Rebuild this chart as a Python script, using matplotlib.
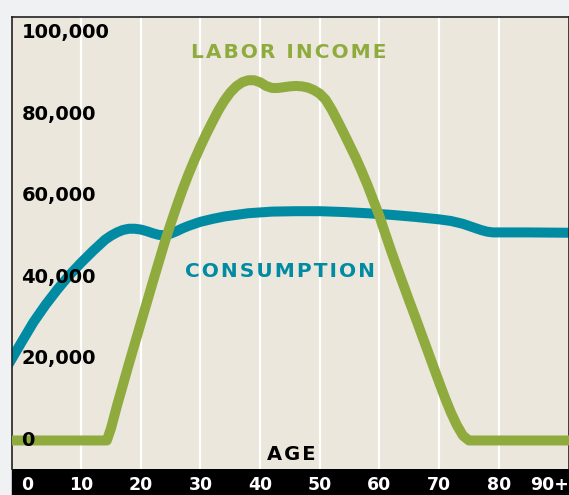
import numpy as np
import matplotlib.pyplot as plt
from matplotlib.transforms import ScaledTranslation

# values (age, dollars)
labor_age = [-2, 14.3, 15, 16, 18, 20, 22, 24, 25, 26, 27, 28, 29, 30, 31, 32, 33, 34, 35, 36, 37,
             38, 39, 40, 41, 42, 43, 44, 45, 46, 47, 48, 49, 50, 51, 52, 53, 54, 55, 56, 57, 58,
             59, 60, 61, 62, 63, 64, 65, 66, 67, 68, 69, 70, 71, 72, 73, 74, 75, 93]
labor_income = [0, 0, 3000, 8500, 18800, 28800, 38800, 48600, 53100, 57400, 61500, 65300, 68800,
                72100, 75200, 78100, 80900, 83300, 85300, 86800, 87800, 88300, 88300, 87800,
                86900, 86400, 86400, 86600, 86800, 86900, 86800, 86500, 85900, 85000, 83500,
                81100, 78300, 75400, 72400, 69400, 66100, 62600, 58800, 55000, 50600, 46300,
                42200, 38200, 34200, 30300, 26300, 22300, 18300, 14300, 10400, 6800, 3700, 1200,
                0, 0]

cons_age = [-2, 0, 2, 4, 6, 8, 10, 12, 14, 15, 16, 17, 18, 19, 20, 21, 22, 23, 24, 25, 26, 27, 28,
            29, 30, 32, 34, 38, 42, 46, 50, 54, 58, 62, 66, 70, 72, 74, 75, 76, 77, 78, 79, 80, 85, 93]
consumption = [19100, 24100, 29000, 33200, 37000, 40500, 43600, 46500, 49200, 50200, 51000, 51600,
               51900, 51900, 51700, 51300, 50800, 50400, 50300, 50700, 51300, 52000, 52600, 53100,
               53600, 54300, 54900, 55700, 56100, 56200, 56200, 56000, 55700, 55300, 54800, 54200,
               53800, 53100, 52600, 52100, 51600, 51200, 51000, 51000, 51000, 50900]

age_ticks = [0, 10, 20, 30, 40, 50, 60, 70, 80, 90]
age_labels = ['0', '10', '20', '30', '40', '50', '60', '70', '80', '90+']
grid_ages = [10, 20, 30, 40, 50, 60, 70, 80]
y_ticks = [0, 20000, 40000, 60000, 80000, 100000]

green = '#8FAB3E'
teal = '#008BA3'
beige = '#EBE7DC'

fig = plt.figure(figsize=(5.69, 4.95), dpi=100, facecolor='#F0F1F3')
ax = fig.add_axes([12 / 569, 26 / 495, 556.5 / 569, 452 / 495])
ax.set_facecolor(beige)

# black strip with the age labels
fig.add_artist(plt.Rectangle((12 / 569, 0), 557 / 569, 26 / 495,
                             transform=fig.transFigure, color='black', zorder=0))

for a in grid_ages:
    ax.axvline(a, color='white', linewidth=1.6, zorder=1)

ax.plot(cons_age, consumption, color=teal, linewidth=7.2,
        solid_joinstyle='round', zorder=2)
ax.plot(labor_age, labor_income, color=green, linewidth=7.2,
        solid_joinstyle='round', zorder=3)

ax.set_xlim(-1.6, 91.7)
ax.set_ylim(-6990, 103800)
ax.set_xticks([])
ax.set_yticks([])

for sp in ['left', 'top', 'right']:
    ax.spines[sp].set_color('#222222')
    ax.spines[sp].set_linewidth(1.2)
ax.spines['bottom'].set_visible(False)

for v in y_ticks:
    ax.text(0, v, '{:,}'.format(v), ha='left', va='center', fontsize=14,
            fontweight='bold', color='black', zorder=5)

xtrans = ax.get_xaxis_transform()
for i, (a, lab) in enumerate(zip(age_ticks, age_labels)):
    ha = 'center'
    tr = xtrans
    if i == 0:
        ha = 'left'
    elif i == len(age_ticks) - 1:
        tr = xtrans + ScaledTranslation(-0.09, 0, fig.dpi_scale_trans)
    ax.text(a, -16 / 452, lab, ha=ha, va='center', fontsize=12.5,
            fontweight='bold', color='white', transform=tr, clip_on=False)

hs = '\u200a'
def spaced(s):
    return hs.join(s)

ax.text(44.75, 95000, spaced('LABOR INCOME'), ha='center', va='center',
        fontsize=14.5, fontweight='bold', color=green, zorder=5)
ax.text(43.4, 41300, spaced('CONSUMPTION'), ha='center', va='center',
        fontsize=14.5, fontweight='bold', color=teal, zorder=5)
ax.text(45.25, -3550, spaced('AGE'), ha='center', va='center',
        fontsize=14, fontweight='bold', color='black', zorder=5)

plt.savefig('out.png', dpi=100, facecolor=fig.get_facecolor())
